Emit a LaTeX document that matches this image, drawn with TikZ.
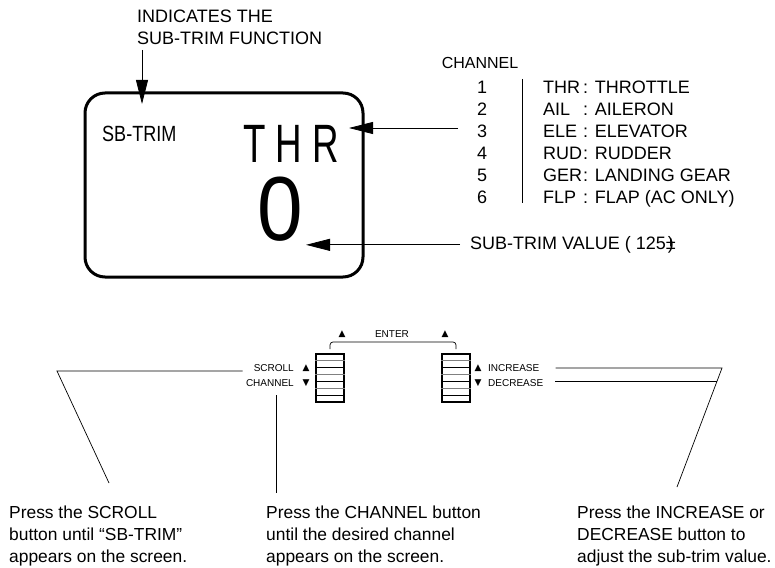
\documentclass[tikz,border=0pt]{standalone}
\usepackage{fontspec}
\setmainfont{Liberation Sans}
\newfontfamily\symfont{DejaVu Sans}
\usetikzlibrary{arrows.meta}

\begin{document}
\begin{tikzpicture}[x=1pt, y=-1pt,
  txt/.style={inner sep=0pt, font=\fontsize{18}{22}\selectfont},
  note/.style={inner sep=0pt, font=\fontsize{17.4}{22}\selectfont, anchor=north west, align=left},
  tiny/.style={inner sep=0pt, font=\fontsize{10}{12}\selectfont},
  sym/.style={inner sep=0pt, font=\symfont\fontsize{9}{9}\selectfont},
  pointer/.style={line width=0.8pt, -{Triangle[length=24pt, width=12pt]}},
  leader/.style={line width=0.7pt},
  button/.style={draw, line width=2pt, minimum width=28pt, minimum height=48pt, inner sep=0pt}]
\useasboundingbox (0,0) rectangle (775,567);

% screen
\draw [line width=3pt, rounded corners=20pt] (85,93) rectangle (363,277);
\node [inner sep=0pt, anchor=base west] (sbtrim) at (102,141.5) {\scalebox{0.82}[1]{\fontsize{22}{22}\selectfont SB-TRIM}};
\node [inner sep=0pt, anchor=base west] (thr) at (243,162) {\scalebox{0.68}[1]{\fontsize{54}{54}\selectfont T H R}};
\node [inner sep=0pt, anchor=base] (val) at (280,240) {\scalebox{0.9}[1]{\fontsize{91}{91}\selectfont 0}};

% top label
\node [txt, anchor=north west, align=left] (indic) at (137,10) {INDICATES THE\\SUB-TRIM FUNCTION};
\coordinate (indicfoot) at (142,50);
\coordinate (indictip) at (142,104);
\draw [pointer] (indicfoot) to (indictip);

% channel list
\node [inner sep=0pt, anchor=base, font=\fontsize{16}{16}\selectfont] (chan) at (480,68.7) {CHANNEL};
\node [txt, anchor=base] (n1) at (482,93.5) {1};
\node [txt, anchor=base] (n2) at (482,115.5) {2};
\node [txt, anchor=base] (n3) at (482,137.5) {3};
\node [txt, anchor=base] (n4) at (482,159.5) {4};
\node [txt, anchor=base] (n5) at (482,181.5) {5};
\node [txt, anchor=base] (n6) at (482,203.5) {6};
\node [txt, anchor=base west] (a1) at (543,93.5) {THR};
\node [txt, anchor=base west] (a2) at (543,115.5) {AIL};
\node [txt, anchor=base west] (a3) at (543,137.5) {ELE};
\node [txt, anchor=base west] (a4) at (543,159.5) {RUD};
\node [txt, anchor=base west] (a5) at (543,181.5) {GER};
\node [txt, anchor=base west] (a6) at (543,203.5) {FLP};
\node [txt, anchor=base west] (d1) at (583,93.5) {: THROTTLE};
\node [txt, anchor=base west] (d2) at (583,115.5) {: AILERON};
\node [txt, anchor=base west] (d3) at (583,137.5) {: ELEVATOR};
\node [txt, anchor=base west] (d4) at (583,159.5) {: RUDDER};
\node [txt, anchor=base west] (d5) at (583,181.5) {: LANDING GEAR};
\node [txt, anchor=base west] (d6) at (583,203.5) {: FLAP (AC ONLY)};
\coordinate (bartop) at (522,79);
\coordinate (barfoot) at (522,203);
\draw [leader] (bartop) to (barfoot);

\coordinate (thrtail) at (458,128);
\coordinate (thrtip) at (349,128);
\draw [pointer] (thrtail) to (thrtip);

\node [txt, anchor=base west] (valtxt) at (470,249.5) {SUB-TRIM VALUE ( 125\rlap{\kern2pt)}±};
\coordinate (valtip) at (306,247);
\draw [pointer] ([xshift=-10pt]valtxt.west) to (valtxt.west -| valtip);

% buttons
\node [button] (lbtn) at (330,378) {};
\node [button] (rbtn) at (456,378) {};
\foreach \b in {lbtn,rbtn} {
  \foreach \k in {7,21,35}
    \draw [gray, line width=1pt] ([yshift=-\k pt]\b.north west) to ([yshift=-\k pt]\b.north east);
  \foreach \k in {14,28,42}
    \draw [line width=1pt] ([yshift=-\k pt]\b.north west) to ([yshift=-\k pt]\b.north east);
}
\node [tiny, anchor=base] (enter) at (392,337.5) {ENTER};
\node [sym] (enterl) at (342,334) {▲};
\node [sym] (enterr) at (445,334) {▲};
\coordinate (entertop) at (392,342);
\draw [leader, rounded corners=3pt] ([yshift=4pt]lbtn.north) |- (entertop) -| ([yshift=4pt]rbtn.north);

\node [tiny, anchor=base east] (scroll) at (294,371.5) {SCROLL};
\node [tiny, anchor=base east] (chlbl) at (294,386.5) {CHANNEL};
\node [sym] (scrollup) at (306,368) {▲};
\node [sym] (chdown) at (306,383) {▼};
\node [sym] (incup) at (478,368) {▲};
\node [sym] (decdown) at (478,383) {▼};
\node [tiny, anchor=base west] (inc) at (488,371.5) {INCREASE};
\node [tiny, anchor=base west] (dec) at (488,386.5) {DECREASE};

% leaders to the notes
\node [note] (scrolltxt) at (9,506) {Press the SCROLL\\button until “SB-TRIM”\\appears on the screen.};
\node [note] (chtxt) at (266,506) {Press the CHANNEL button\\until the desired channel\\appears on the screen.};
\node [note] (inctxt) at (577,506) {Press the INCREASE or\\DECREASE button to\\adjust the sub-trim value.};

\coordinate (lknee) at (57,371);
\coordinate (lfoot) at (109,483);
\draw [leader] ([xshift=-11pt]scroll.west |- lknee) -- (lknee) -- (lfoot);
\coordinate (mtop) at (276,395);
\coordinate (mfoot) at (276,493);
\draw [leader] (mtop) to (mfoot);
\coordinate (rknee) at (722,368);
\coordinate (rfoot) at (677,487);
\coordinate (rjoin) at (717,381);
\draw [leader] ([xshift=16pt]inc.east |- rknee) -- (rknee) -- (rfoot);
\draw [leader] ([xshift=12pt]dec.east |- rjoin) -- (rjoin);
\end{tikzpicture}
\end{document}
